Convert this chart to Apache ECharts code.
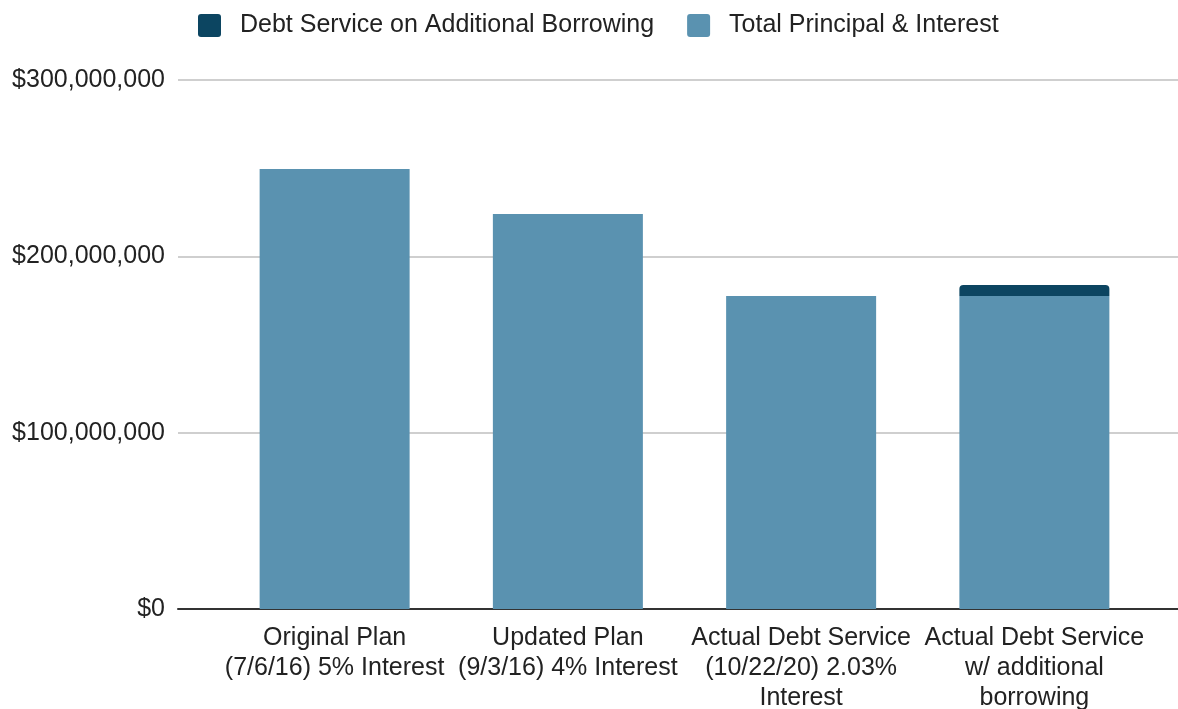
<!DOCTYPE html>
<html>
<head>
<meta charset="utf-8">
<script src="https://cdn.jsdelivr.net/npm/echarts@6/dist/echarts.min.js"></script>
<style>
html,body{margin:0;padding:0;background:#fff;}
#chart{width:1178px;height:709px;}
</style>
</head>
<body>
<div id="chart"></div>
<script>
const categories = [
  "Original Plan\n(7/6/16) 5% Interest",
  "Updated Plan\n(9/3/16) 4% Interest",
  "Actual Debt Service\n(10/22/20) 2.03%\nInterest",
  "Actual Debt Service\nw/ additional\nborrowing"
];
const totalPrincipalInterest = [249500000, 224000000, 177500000, 177500000];
const additionalBorrowing = [null, null, null, 6200000];
const yTicks = [0, 100000000, 200000000, 300000000];

const FONT = "Liberation Sans, Arial, sans-serif";
const chart = echarts.init(document.getElementById('chart'));
function fmt(v){ return '$' + v.toLocaleString('en-US'); }

chart.setOption({
  animation: false,
  textStyle: { fontFamily: FONT },
  legend: {
    top: 8,
    left: 193,
    itemWidth: 23,
    itemHeight: 23,
    itemGap: 33,
    icon: 'path://M3,0 H20 A3,3 0 0 1 23,3 V20 A3,3 0 0 1 20,23 H3 A3,3 0 0 1 0,20 V3 A3,3 0 0 1 3,0 Z',
    data: ['Debt Service on Additional Borrowing', 'Total Principal & Interest'],
    textStyle: { fontSize: 25, color: '#222', fontFamily: FONT, padding: [0, 0, 0, 14] }
  },
  grid: [
    { left: 178, right: 0, top: 80, bottom: 100, outerBoundsMode: 'none', containLabel: false },
    { left: 218, right: 27, top: 80, bottom: 100, outerBoundsMode: 'none', containLabel: false }
  ],
  xAxis: [
    { gridIndex: 0, type: 'category', data: [''],
      axisLine: { show: true, lineStyle: { color: '#333', width: 2 } },
      axisTick: { show: false }, axisLabel: { show: false } },
    { gridIndex: 1, type: 'category', data: categories,
      axisLine: { show: false }, axisTick: { show: false },
      axisLabel: { fontSize: 25, color: '#222', fontFamily: FONT, lineHeight: 30, margin: 14, interval: 0 } }
  ],
  yAxis: [
    { gridIndex: 0, type: 'value', min: yTicks[0], max: yTicks[yTicks.length - 1], interval: yTicks[1] - yTicks[0],
      axisLine: { show: false }, axisTick: { show: false },
      axisLabel: { fontSize: 25, color: '#222', fontFamily: FONT, margin: 13, formatter: fmt },
      splitLine: { lineStyle: { color: '#cfcfcf', width: 2 } } },
    { gridIndex: 1, type: 'value', min: yTicks[0], max: yTicks[yTicks.length - 1], show: false,
      splitLine: { show: false } }
  ],
  series: [
    { name: 'Total Principal & Interest', type: 'bar', xAxisIndex: 1, yAxisIndex: 1, stack: 'a',
      barWidth: 150, data: totalPrincipalInterest, itemStyle: { color: '#5a92b0' } },
    { name: 'Debt Service on Additional Borrowing', type: 'bar', xAxisIndex: 1, yAxisIndex: 1, stack: 'a',
      barWidth: 150, data: additionalBorrowing, itemStyle: { color: '#0c4561', borderRadius: [4, 4, 0, 0] } }
  ]
});
</script>
</body>
</html>
